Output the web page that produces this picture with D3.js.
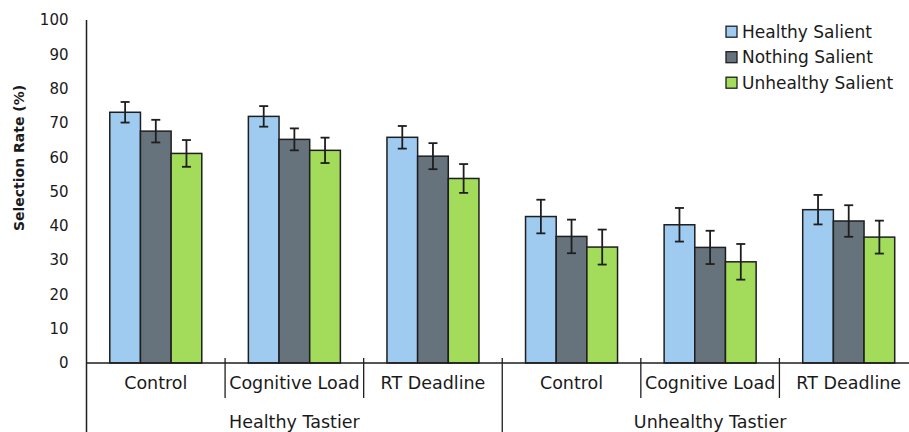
<!DOCTYPE html>
<html><head><meta charset="utf-8">
<script src="https://cdn.jsdelivr.net/npm/d3@7"></script>
<style>body{margin:0;background:#fff}svg{display:block}text{font-family:"DejaVu Sans",sans-serif;fill:#1a1a1a}</style>
</head><body><svg id="c" width="909" height="432"></svg>
<script>
const groups = ["Healthy Tastier", "Unhealthy Tastier"];
const conditions = ["Control", "Cognitive Load", "RT Deadline"];
const series = ["Healthy Salient", "Nothing Salient", "Unhealthy Salient"];
const colors = ["#9fcbf0", "#67737c", "#a3dc5b"];
// values in order: HT-Control, HT-Cognitive, HT-RT, UT-Control, UT-Cognitive, UT-RT
const healthySalient = [73.1, 71.9, 65.8, 42.7, 40.3, 44.7];
const nothingSalient = [67.6, 65.2, 60.3, 36.9, 33.7, 41.4];
const unhealthySalient = [61.1, 62.0, 53.8, 33.8, 29.5, 36.7];
const errHealthy = [3.0, 3.0, 3.3, 4.9, 4.9, 4.3];
const errNothing = [3.3, 3.2, 3.8, 4.9, 4.85, 4.6];
const errUnhealthy = [3.9, 3.7, 4.2, 5.1, 5.2, 4.8];
const yTicks = [0,10,20,30,40,50,60,70,80,90,100];

const values = [healthySalient, nothingSalient, unhealthySalient];
const errors = [errHealthy, errNothing, errUnhealthy];
const cats = [];
groups.forEach(g => conditions.forEach(c => cats.push(g + "|" + c)));

const svg = d3.select("#c");
const x0 = 86.5, x1 = 918, yTop = 20, yBot = 363;
const x = d3.scaleBand().domain(cats).range([x0, x1]).paddingInner(0).paddingOuter(0);
const xs = d3.scaleBand().domain(series).range([0, 92]);
const y = d3.scaleLinear().domain([0, 100]).range([yBot, yTop]);
const off = (x.bandwidth() - 92) / 2;

// bars
series.forEach((s, si) => {
  svg.append("g").selectAll("rect").data(cats).join("rect")
    .attr("x", (d) => x(d) + off + xs(s))
    .attr("y", (d, i) => y(values[si][i]))
    .attr("width", xs.bandwidth())
    .attr("height", (d, i) => yBot - y(values[si][i]))
    .attr("fill", colors[si]).attr("stroke", "#1e1e1e").attr("stroke-width", 1.5);
});
// error bars
series.forEach((s, si) => {
  const g = svg.append("g").attr("stroke", "#1e1e1e").attr("stroke-width", 1.8);
  cats.forEach((d, i) => {
    const cx = x(d) + off + xs(s) + xs.bandwidth() / 2;
    const v = values[si][i], e = errors[si][i];
    g.append("line").attr("x1", cx).attr("x2", cx).attr("y1", y(v + e)).attr("y2", y(v - e));
    g.append("line").attr("x1", cx - 4.5).attr("x2", cx + 4.5).attr("y1", y(v + e)).attr("y2", y(v + e));
    g.append("line").attr("x1", cx - 4.5).attr("x2", cx + 4.5).attr("y1", y(v - e)).attr("y2", y(v - e));
  });
});

// y axis
const yAxis = d3.axisLeft(y).tickValues(yTicks).tickSize(0).tickPadding(18);
const ya = svg.append("g").attr("transform", `translate(${x0},0)`).call(yAxis);
ya.select(".domain").remove();
ya.selectAll("text").style("font-size", "15px").attr("fill", "#1a1a1a").style("font-family", "DejaVu Sans");
svg.append("line").attr("x1", x0).attr("x2", x0).attr("y1", yTop).attr("y2", 432).attr("stroke", "#1e1e1e").attr("stroke-width", 1.5);

// x axis
const xAxis = d3.axisBottom(x).tickSize(0).tickPadding(14).tickFormat(d => d.split("|")[1]);
const xa = svg.append("g").attr("transform", `translate(0,${yBot})`).call(xAxis);
xa.select(".domain").remove();
xa.selectAll("text").style("font-size", "17.5px").attr("fill", "#1a1a1a").style("font-family", "DejaVu Sans");
svg.append("line").attr("x1", x0).attr("x2", x1).attr("y1", yBot).attr("y2", yBot).attr("stroke", "#1e1e1e").attr("stroke-width", 1.5);

// separators
cats.forEach((d, i) => {
  if (i === 0) return;
  const big = (i % conditions.length === 0);
  svg.append("line").attr("x1", x(d)).attr("x2", x(d)).attr("y1", 358).attr("y2", big ? 432 : 398)
    .attr("stroke", "#1e1e1e").attr("stroke-width", 1.3);
});

// group labels
groups.forEach((g, gi) => {
  const a = x(g + "|" + conditions[0]);
  const b = x(g + "|" + conditions[conditions.length - 1]) + x.bandwidth();
  svg.append("text").attr("x", (a + b) / 2).attr("y", 428).attr("text-anchor", "middle")
    .style("font-size", "17.5px").text(g);
});

// y title
svg.append("text").attr("transform", "translate(24,158) rotate(-90)").attr("text-anchor", "middle")
  .style("font-size", "14px").style("font-weight", "bold").text("Selection Rate (%)");

// legend
const lg = svg.append("g");
series.forEach((s, si) => {
  const yy = 31.7 + si * 25.5;
  lg.append("rect").attr("x", 726).attr("y", yy - 5.5).attr("width", 11).attr("height", 11)
    .attr("fill", colors[si]).attr("stroke", "#1e1e1e").attr("stroke-width", 1.3);
  lg.append("text").attr("x", 742).attr("y", yy).attr("dy", "0.36em").style("font-size", "17px").text(s);
});
</script></body></html>
